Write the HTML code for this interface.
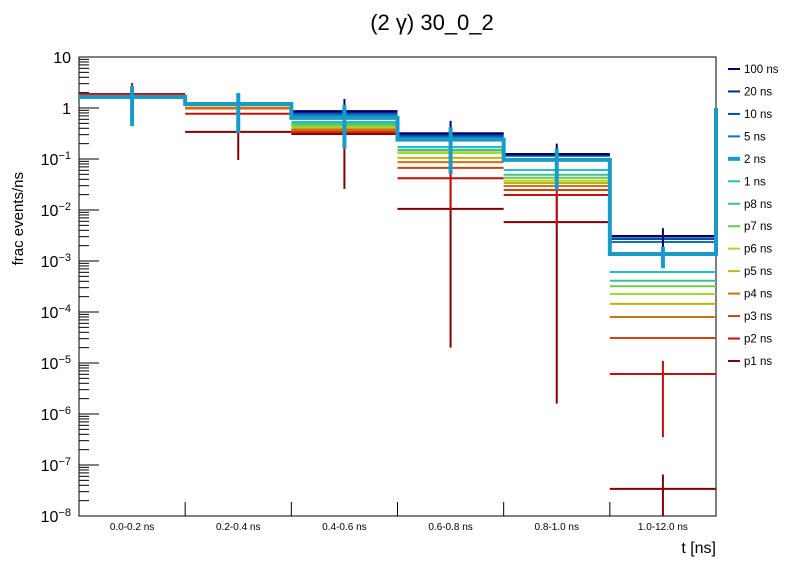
<!DOCTYPE html>
<html><head><meta charset="utf-8"><style>
body{margin:0;background:#fff}
svg{display:block;font-family:"Liberation Sans",sans-serif}
</style></head><body>
<svg id="chart" width="796" height="572" xmlns="http://www.w3.org/2000/svg">
<text x="432" y="30" font-size="22" text-anchor="middle">(2 γ) 30_0_2</text>
<text transform="translate(23,172) rotate(-90)" font-size="15" text-anchor="end">frac events/ns</text>
<text x="716" y="553" font-size="16" text-anchor="end">t [ns]</text>
<g id="axes"></g>
<g id="marks"></g>
<g id="legend"></g>
</svg>
<script>
const categories = ["0.0-0.2 ns","0.2-0.4 ns","0.4-0.6 ns","0.6-0.8 ns","0.8-1.0 ns","1.0-12.0 ns"];
const seriesNames = ["100 ns","20 ns","10 ns","5 ns","2 ns","1 ns","p8 ns","p7 ns","p6 ns","p5 ns","p4 ns","p3 ns","p2 ns","p1 ns"];
const seriesColors = ["#00006e","#002c8c","#0050a0","#1470c0","#1a9ac8","#20c0c8","#40c090","#70c850","#a8d828","#c8b010","#d07010","#d04010","#c01010","#800000"];
const s100 = [1.72,1.15,0.87,0.32,0.125,0.0031];
const s20  = [1.72,1.15,0.84,0.31,0.122,0.0030];
const s10  = [1.72,1.15,0.80,0.29,0.12,0.0027];
const s5   = [1.72,1.15,0.73,0.27,0.115,0.00236];
const s2   = [1.64,1.2,0.64,0.24,0.096,0.00137];
const s1   = [1.72,1.15,0.53,0.172,0.061,0.00061];
const sp8  = [1.72,1.15,0.50,0.152,0.049,0.00041];
const sp7  = [1.72,1.15,0.46,0.146,0.043,0.00032];
const sp6  = [1.72,1.15,0.43,0.131,0.0376,0.000225];
const sp5  = [1.72,1.12,0.41,0.105,0.0339,0.000144];
const sp4  = [1.72,1.0,0.38,0.087,0.0296,0.00008];
const sp3  = [1.75,0.98,0.35,0.067,0.0247,0.000031];
const sp2  = [1.88,0.77,0.33,0.042,0.0197,0.0000061];
const sp1  = [1.88,0.34,0.31,0.0105,0.0058,0.000000034];
const seriesValues = [s100,s20,s10,s5,s2,s1,sp8,sp7,sp6,sp5,sp4,sp3,sp2,sp1];
const err2Hi = [2.7,1.97,1.15,0.42,0.16,0.0019];
const err2Lo = [0.44,0.32,0.16,0.051,0.025,0.00072];
const err100Hi = [1.9,1.3,1.5,0.56,0.2,0.0044];
const err100Lo = [1.5,1.0,0.5,0.1,0.05,0.0015];
const errp2Hi = [3.1,1.0,0.5,0.1,0.04,0.000011];
const errp2Lo = [1.0,0.5,0.15,0.01,0.005,0.00000035];
const errp1Hi = [2.5,0.5,0.5,0.07,0.02,0.000000065];
const errp1Lo = [1.0,0.096,0.026,0.00002,0.0000016,0.00000001];
const yTickExps = [1,0,-1,-2,-3,-4,-5,-6,-7,-8];
const yTickLabels = ["10","1","10<tspan dy='-6' font-size='11'>−1</tspan>","10<tspan dy='-6' font-size='11'>−2</tspan>","10<tspan dy='-6' font-size='11'>−3</tspan>","10<tspan dy='-6' font-size='11'>−4</tspan>","10<tspan dy='-6' font-size='11'>−5</tspan>","10<tspan dy='-6' font-size='11'>−6</tspan>","10<tspan dy='-6' font-size='11'>−7</tspan>","10<tspan dy='-6' font-size='11'>−8</tspan>"];

const X0=79,X1=716,Y0=57,Y1=516,LMAX=1,LMIN=-8;
const NS="http://www.w3.org/2000/svg";
const bw=(X1-X0)/categories.length;
function xEdge(i){return X0+i*bw;}
function xCenter(i){return X0+(i+0.5)*bw;}
function yPos(v){const l=Math.max(LMIN,Math.min(LMAX+0.2,Math.log10(v)));return Y0+(LMAX-l)/(LMAX-LMIN)*(Y1-Y0);}
function mk(tag,attrs,parent){const e=document.createElementNS(NS,tag);for(const k in attrs)e.setAttribute(k,attrs[k]);parent.appendChild(e);return e;}
const axes=document.getElementById('axes'),marks=document.getElementById('marks'),legend=document.getElementById('legend');

// frame
let fr=mk('rect',{x:X0,y:Y0,width:X1-X0,height:Y1-Y0,fill:'none',stroke:'#000','stroke-width':1},axes);


// y ticks
for(let d=LMIN;d<=LMAX;d++){
  for(let m=1;m<10;m++){
    const v=m*Math.pow(10,d);const l=Math.log10(v);if(l>LMAX)break;
    const y=yPos(v);const len=m===1?20:10;
    const t=mk('line',{x1:X0,x2:X0+len,y1:y,y2:y,stroke:'#000','stroke-width':1},axes);
    
    
  }
}
yTickExps.forEach((e,i)=>{
  const t=mk('text',{x:X0-8,y:yPos(Math.pow(10,e))+6,'font-size':16,'text-anchor':'end'},axes);
  t.innerHTML=yTickLabels[i];
  
  
});
// x ticks and labels
for(let i=1;i<categories.length;i++){
  const t=mk('line',{x1:xEdge(i),x2:xEdge(i),y1:Y1,y2:Y1-14,stroke:'#000'},axes);
  
  
}
categories.forEach((c,i)=>{
  const t=mk('text',{x:xCenter(i),y:530,'font-size':10,'text-anchor':'middle'},axes);
  t.textContent=c;
  
  
});
// series (thin) drawn in reverse so 100 ns ends on top; 2 ns last
function errBar(i,col,hi,lo,w,g){
  const l=mk('line',{x1:xCenter(i),x2:xCenter(i),y1:yPos(hi),y2:yPos(lo),stroke:col,'stroke-width':w},g);
  
  
}
const order=[13,12,11,10,9,8,7,6,5,3,2,1,0];
order.forEach(si=>{
  const g=mk('g',{},marks);
  
  
  const col=seriesColors[si];
  if(si===13)seriesValues[si].forEach((v,i)=>errBar(i,col,errp1Hi[i],errp1Lo[i],2,g));
  if(si===12)seriesValues[si].forEach((v,i)=>errBar(i,col,errp2Hi[i],errp2Lo[i],2,g));
  if(si===0)seriesValues[si].forEach((v,i)=>errBar(i,col,err100Hi[i],err100Lo[i],2,g));
  seriesValues[si].forEach((v,i)=>{
    const l=mk('line',{x1:xEdge(i),x2:xEdge(i+1),y1:yPos(v),y2:yPos(v),stroke:col,'stroke-width':2},g);
    
    
  });
});
// 2 ns thick step histogram
{
  const g=mk('g',{},marks);
  
  
  const col=seriesColors[4];
  let d='M'+xEdge(0)+','+yPos(s2[0]);
  s2.forEach((v,i)=>{d+=' L'+xEdge(i)+','+yPos(v)+' L'+xEdge(i+1)+','+yPos(v);});
  d+=' L'+xEdge(s2.length)+','+yPos(1);
  const p=mk('path',{d:d,fill:'none',stroke:col,'stroke-width':4},g);
  
  
  s2.forEach((v,i)=>errBar(i,col,err2Hi[i],err2Lo[i],4,g));
}
// legend
seriesNames.forEach((n,i)=>{
  const y=69+i*22.46;
  const g=mk('g',{},legend);
  
  
  mk('line',{x1:728,x2:740,y1:y,y2:y,stroke:seriesColors[i],'stroke-width':i===4?4:2},g);
  const t=mk('text',{x:744,y:y+4,'font-size':11.5},g);
  t.textContent=n;
});
</script>
</body></html>
